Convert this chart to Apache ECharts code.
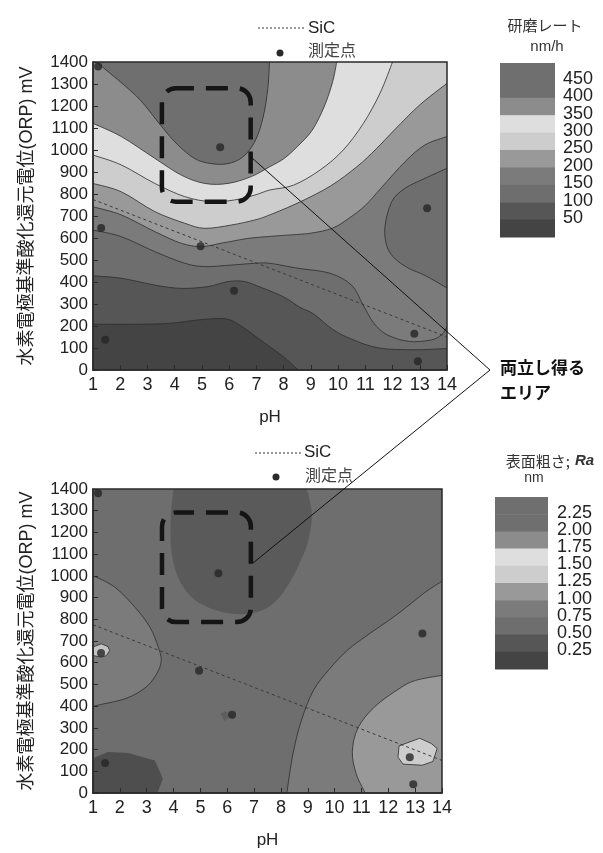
<!DOCTYPE html>
<html><head><meta charset="utf-8">
<script src="https://cdn.jsdelivr.net/npm/echarts@6/dist/echarts.min.js"></script>
<style>html,body{margin:0;padding:0;background:#fff}#c{width:603px;height:853px}</style>
</head><body><div id="c"></div>
<script>
// ---------- axis ranges ----------
const phRange = [1, 14];
const orpRange = [0, 1400];
const phInterval = 1;
const orpInterval = 100;

// ---------- measured points & SiC line (same in both plots) ----------
const measPH  = [1.19, 1.30, 1.45, 4.95, 5.67, 6.18, 13.27, 12.80, 12.93];
const measORP = [1380, 645, 138, 563, 1012, 360, 735, 165, 40];
const sicPH  = [1, 14];
const sicORP = [775, 150];

// ---------- colour levels (low -> high) ----------
const levelColors = ['#444444','#565656','#6e6e6e','#7b7b7b','#999999','#cdcdcd','#dedede','#8c8c8c','#6f6f6f','#6f6f6f'];
const rateLegendLabels = ['450','400','350','300','250','200','150','100','50'];
const raLegendLabels = ['2.25','2.00','1.75','1.50','1.25','1.00','0.75','0.50','0.25'];

// ---------- top plot: polishing-rate contour lines [pH, ORP] ----------
const rate50  = [[1,208],[2.5,208],[3.8,212],[4.9,228],[5.9,232],[6.5,195],[7.0,150],[7.5,105],[8.0,60],[8.4,15],[8.55,0]];
const rate100 = [[1,428],[2.04,417],[3.27,386],[4.24,371],[5.22,379],[5.96,402],[6.57,402],[7.18,375],[7.99,333],[8.6,285],[9.1,255],[9.8,185],[10.5,140],[11.5,100],[12.8,92],[14,98]];
const rate150 = [[1,636],[2.04,606],[3.27,538],[4.37,485],[5.1,470],[6.08,477],[6.94,485],[7.49,485],[8.54,462],[9.7,440],[10.5,385],[10.9,300],[11.3,215],[11.8,160],[12.6,130],[13.4,136],[13.8,160],[14,197]];
const rate150hole = [[14,917],[13.19,871],[12.46,826],[11.97,765],[11.72,650],[11.8,560],[12.1,505],[12.6,462],[13.19,430],[14,373]];
const rate200 = [[1,742],[2.04,705],[3.27,629],[4.24,576],[4.98,561],[5.7,576],[6.69,598],[7.49,607],[8.0,612],[9.0,622],[9.8,645],[10.4,690],[11.0,748],[11.6,830],[12.46,947],[13.19,1023],[14,1061]];
const rate250 = [[1,848],[2.04,810],[3.27,720],[4.37,667],[5.1,644],[6.08,659],[6.94,682],[7.49,705],[8.57,762],[9.73,837],[10.7,925],[11.4,1005],[12.1,1095],[13.0,1205],[14,1303]];
const rate300 = [[1,977],[2.04,932],[3.27,848],[4.37,788],[5.34,765],[6.2,773],[6.94,795],[7.49,818],[8.36,840],[9.34,909],[10.19,1000],[10.93,1121],[11.54,1258],[12.0,1400]];
const rate350 = [[1,1121],[2.04,1061],[3.27,962],[4.24,886],[5.1,848],[5.96,848],[6.81,879],[7.49,924],[8.0,960],[8.5,1015],[9.05,1090],[9.5,1200],[9.8,1310],[9.95,1400]];
const rate400 = [[1.12,1400],[2.0,1310],[2.75,1225],[3.5,1110],[4.1,1025],[4.75,960],[5.35,938],[5.95,938],[6.5,968],[6.95,1040],[7.25,1150],[7.42,1280],[7.48,1400]];

// ---------- bottom plot: surface roughness Ra contour lines [pH, ORP] ----------
const raLeft075   = [[1,1001],[1.81,948],[2.56,856],[3.12,764],[3.43,672],[3.54,615],[3.42,560],[3.0,490],[2.26,437],[1.31,408],[1,400]];
const raRight075  = [[8.22,0],[8.44,175],[8.75,330],[9.2,470],[9.8,570],[10.5,660],[11.2,725],[12.3,820],[13.38,925],[14,975]];
const raCorner100 = [[14,542],[13.0,518],[12.4,480],[11.5,398],[10.87,300],[10.66,190],[10.8,90],[11.1,10],[11.15,0]];
const raIsland125 = [[12.4,217],[13.17,252],[13.6,228],[13.82,205],[13.66,145],[13.26,128],[12.55,133],[12.36,165]];
const raTop050    = [[3.99,1400],[3.9,1270],[3.92,1116],[4.17,994],[4.67,902],[5.28,856],[6.03,828],[6.77,825],[7.45,850],[8.0,910],[8.4,985],[8.7,1060],[8.97,1140],[9.12,1226],[9.15,1290],[9.05,1360],[8.95,1400]];
const raLow050    = [[1,160],[1.56,189],[2.31,184],[3.3,150],[3.5,95],[3.6,66],[3.4,0]];
const raBlob      = [[1,672],[1.31,687],[1.56,674],[1.62,656],[1.5,633],[1.31,626],[1,633]];
const raDiamond   = [[5.76,365],[5.91,377],[6.1,365],[6.04,343],[5.89,332]];

// ---------- highlighted "compatible" areas ----------
const topAreaPH = [3.53, 6.79], topAreaORP = [765, 1281];
const botAreaPH = [3.57, 6.88], botAreaORP = [787, 1292];

const NUM_FONT = '"Liberation Sans",Arial,sans-serif';
const TXT_FONT = '"Liberation Sans","Noto Sans CJK JP",sans-serif';
const JP_FONT = '"Noto Sans CJK JP","Liberation Sans",sans-serif';

const corners = {
  bl: [phRange[0], orpRange[0]], br: [phRange[1], orpRange[0]],
  tr: [phRange[1], orpRange[1]], tl: [phRange[0], orpRange[1]]
};
const c = levelColors;

const topLayers = [
  { line: [], close: [corners.bl, corners.br, corners.tr, corners.tl], color: c[0] },
  { line: rate50, close: [corners.br, corners.tr, corners.tl], color: c[1], smooth: true, stroke: true },
  { line: rate100, close: [corners.tr, corners.tl], color: c[2], smooth: true, stroke: true },
  { line: rate150, close: [corners.tr, corners.tl], color: c[3], smooth: true, stroke: true },
  { line: rate150hole, close: [], color: c[2], smooth: true, stroke: true },
  { line: rate200, close: [corners.tr, corners.tl], color: c[4], smooth: true, stroke: true },
  { line: rate250, close: [corners.tr, corners.tl], color: c[5], smooth: true, stroke: true },
  { line: rate300, close: [corners.tl], color: c[6], smooth: true, stroke: true },
  { line: rate350, close: [corners.tl], color: c[7], smooth: true, stroke: true },
  { line: rate400, close: [], color: c[8], smooth: true, stroke: true }
];
const botLayers = [
  { line: [], close: [corners.bl, corners.br, corners.tr, corners.tl], color: c[2] },
  { line: raLeft075, close: [], color: c[3], smooth: true, stroke: true },
  { line: raRight075, close: [corners.br], color: c[3], smooth: true, stroke: true },
  { line: raCorner100, close: [corners.br], color: c[4], smooth: true, stroke: true },
  { line: raIsland125, close: [], color: c[5], stroke: true, closed: true },
  { line: raTop050, close: [], color: '#5a5a5a', smooth: true },
  { line: raLow050, close: [corners.bl], color: '#4e4e4e' },
  { line: raBlob, close: [], color: '#c4c4c4', stroke: true, closed: true },
  { line: raDiamond, close: [], color: '#5e5e5e', closed: true }
];

function f(n){ return n.toFixed(2); }
function linePath(pts){
  return pts.map((p,i)=>(i?' L':'M')+f(p[0])+' '+f(p[1])).join('');
}
function smoothPath(pts){
  if (pts.length < 3) return linePath(pts);
  let d = 'M' + f(pts[0][0]) + ' ' + f(pts[0][1]);
  for (let i = 0; i < pts.length - 1; i++) {
    const p0 = pts[i-1] || pts[i], p1 = pts[i], p2 = pts[i+1], p3 = pts[i+2] || pts[i+1];
    const t = 1/6;
    d += ' C' + f(p1[0]+(p2[0]-p0[0])*t) + ' ' + f(p1[1]+(p2[1]-p0[1])*t) + ' ' +
         f(p2[0]-(p3[0]-p1[0])*t) + ' ' + f(p2[1]-(p3[1]-p1[1])*t) + ' ' + f(p2[0]) + ' ' + f(p2[1]);
  }
  return d;
}

function contourSeries(layers, gi){
  return {
    type: 'custom', coordinateSystem: 'cartesian2d', xAxisIndex: gi, yAxisIndex: gi,
    clip: true, silent: true, z: 1,
    data: layers.map((l, i) => [i]),
    renderItem: function(params, api){
      const L = layers[params.dataIndex];
      const curve = L.line.map(p => api.coord(p));
      const closing = L.close.map(p => api.coord(p));
      let curveD = curve.length ? (L.smooth ? smoothPath(curve) : linePath(curve)) : '';
      let fillD;
      if (curve.length) {
        fillD = curveD + closing.map(p => ' L' + f(p[0]) + ' ' + f(p[1])).join('') + ' Z';
      } else {
        fillD = linePath(closing) + ' Z';
      }
      const children = [{ type: 'path', shape: { pathData: fillD }, style: { fill: L.color, stroke: null } }];
      if (L.stroke) {
        children.push({ type: 'path', shape: { pathData: curveD + (L.closed ? ' Z' : '') },
          style: { fill: null, stroke: '#2c2c2c', lineWidth: 0.8 } });
      }
      return { type: 'group', children: children };
    }
  };
}

function frameSeries(gi){
  return {
    type: 'custom', coordinateSystem: 'cartesian2d', xAxisIndex: gi, yAxisIndex: gi,
    silent: true, z: 8, clip: false, data: [[0]],
    renderItem: function(params, api){
      const a = api.coord(corners.tl), b = api.coord(corners.br);
      return { type: 'rect', shape: { x: a[0], y: a[1], width: b[0]-a[0], height: b[1]-a[1] },
        style: { fill: null, stroke: '#2a2a2a', lineWidth: 1.5 } };
    }
  };
}

function areaSeries(phs, orps, gi){
  return {
    type: 'custom', coordinateSystem: 'cartesian2d', xAxisIndex: gi, yAxisIndex: gi,
    silent: true, z: 9, clip: false, data: [[0]],
    renderItem: function(params, api){
      const a = api.coord([phs[0], orps[1]]), b = api.coord([phs[1], orps[0]]);
      return { type: 'rect', shape: { x: a[0], y: a[1], width: b[0]-a[0], height: b[1]-a[1], r: 14 },
        style: { fill: null, stroke: '#151515', lineWidth: 4.5, lineDash: [22, 12], lineDashOffset: 4 } };
    }
  };
}

function xAx(gi){
  return { type: 'value', gridIndex: gi, min: phRange[0], max: phRange[1], interval: phInterval, z: 10,
    axisLine: { show: true, onZero: false, lineStyle: { color: '#2a2a2a', width: 1.5 } },
    axisTick: { show: true, inside: true, length: 5, lineStyle: { color: '#2a2a2a' } },
    axisLabel: { fontFamily: NUM_FONT, fontSize: 18, color: '#222', margin: 6, formatter: v => String(v) },
    splitLine: { show: false },
    name: 'pH', nameLocation: 'middle', nameGap: 39,
    nameTextStyle: { fontFamily: TXT_FONT, fontSize: 17, color: '#222' } };
}
function yAx(gi){
  return { type: 'value', gridIndex: gi, min: orpRange[0], max: orpRange[1], interval: orpInterval, z: 10,
    axisLine: { show: true, onZero: false, lineStyle: { color: '#2a2a2a', width: 1.5 } },
    axisTick: { show: true, inside: true, length: 5, lineStyle: { color: '#2a2a2a' } },
    axisLabel: { fontFamily: NUM_FONT, fontSize: 17, color: '#222', margin: 5, hideOverlap: false, formatter: v => String(v) },
    splitLine: { show: false },
    name: '水素電極基準酸化還元電位(ORP) mV', nameLocation: 'middle', nameRotate: 90, nameGap: 57,
    nameTextStyle: { fontFamily: TXT_FONT, fontSize: 18, color: '#222' } };
}

const meas = measPH.map((p, i) => [p, measORP[i]]);
const sic = sicPH.map((p, i) => [p, sicORP[i]]);

function pointsSeries(gi){
  return { type: 'scatter', xAxisIndex: gi, yAxisIndex: gi, data: meas, symbolSize: 8, z: 6,
    itemStyle: { color: '#262626' }, silent: true };
}
function sicSeries(gi){
  return { type: 'line', xAxisIndex: gi, yAxisIndex: gi, data: sic, symbol: 'none', z: 5, silent: true,
    lineStyle: { color: '#3a3a3a', width: 1, type: [3, 3] } };
}

// ---------- legend graphics ----------
const graphics = [];
function colorBar(x, y, w, h, labels, labelX, fontSize){
  const bandsTopDown = levelColors.slice().reverse();
  bandsTopDown.forEach((col, i) => {
    graphics.push({ type: 'rect', shape: { x: x, y: y + i*h, width: w, height: h + 0.5 }, style: { fill: col } });
  });
  labels.forEach((lab, i) => {
    graphics.push({ type: 'text', x: labelX, y: y + (i+1)*h - 1.5,
      style: { text: lab, font: fontSize + 'px ' + NUM_FONT, fill: '#222', verticalAlign: 'middle', align: 'left' } });
  });
}
colorBar(500, 63, 55, 17.4, rateLegendLabels, 563, 18);
colorBar(495, 497, 53, 17.2, raLegendLabels, 557, 18);

graphics.push(
  { type: 'text', x: 545, y: 25, style: { text: '研磨レート', font: '15px ' + JP_FONT, fill: '#333', align: 'center', verticalAlign: 'middle' } },
  { type: 'text', x: 547, y: 47, style: { text: 'nm/h', font: '15px ' + TXT_FONT, fill: '#333', align: 'center', verticalAlign: 'middle' } },
  { type: 'text', x: 550, y: 461, style: { text: '{a|表面粗さ;}{s| }{b|Ra}', align: 'center', verticalAlign: 'middle',
      rich: { a: { font: '15px ' + JP_FONT, fill: '#333' }, s: { font: '15px ' + TXT_FONT, width: 5 }, b: { font: 'italic bold 15px ' + TXT_FONT, fill: '#333' } } } },
  { type: 'text', x: 534, y: 478, style: { text: 'nm', font: '14px ' + TXT_FONT, fill: '#333', align: 'center', verticalAlign: 'middle' } },
  // series legends
  { type: 'line', shape: { x1: 258, y1: 28, x2: 305, y2: 28 }, style: { stroke: '#333', lineWidth: 1, lineDash: [2, 2] } },
  { type: 'text', x: 308, y: 28, style: { text: 'SiC', font: '17px ' + TXT_FONT, fill: '#222', verticalAlign: 'middle' } },
  { type: 'circle', shape: { cx: 280, cy: 53, r: 3.5 }, style: { fill: '#2a2a2a' } },
  { type: 'text', x: 308, y: 50, style: { text: '測定点', font: '16px ' + JP_FONT, fill: '#444', verticalAlign: 'middle' } },
  { type: 'line', shape: { x1: 255, y1: 453, x2: 302, y2: 453 }, style: { stroke: '#333', lineWidth: 1, lineDash: [2, 2] } },
  { type: 'text', x: 304, y: 452, style: { text: 'SiC', font: '17px ' + TXT_FONT, fill: '#222', verticalAlign: 'middle' } },
  { type: 'circle', shape: { cx: 276, cy: 477, r: 3.5 }, style: { fill: '#2a2a2a' } },
  { type: 'text', x: 305, y: 475, style: { text: '測定点', font: '16px ' + JP_FONT, fill: '#444', verticalAlign: 'middle' } },
  // annotation
  { type: 'polyline', z: 20, shape: { points: [[251, 157], [490, 370], [253, 563]] }, style: { stroke: '#111', lineWidth: 1, fill: null } },
  { type: 'text', x: 500, y: 368, style: { text: '両立し得る', font: 'bold 17px ' + JP_FONT, fill: '#111', verticalAlign: 'middle' } },
  { type: 'text', x: 500, y: 393, style: { text: 'エリア', font: 'bold 17px ' + JP_FONT, fill: '#111', verticalAlign: 'middle' } }
);

const chart = echarts.init(document.getElementById('c'), null, { renderer: 'canvas' });
chart.setOption({
  animation: false,
  backgroundColor: '#ffffff',
  grid: [
    { left: 93, top: 62, width: 354, height: 308 },
    { left: 93, top: 489, width: 349, height: 304 }
  ],
  xAxis: [xAx(0), xAx(1)],
  yAxis: [yAx(0), yAx(1)],
  series: [
    contourSeries(topLayers, 0), contourSeries(botLayers, 1),
    sicSeries(0), sicSeries(1), pointsSeries(0), pointsSeries(1),
    frameSeries(0), frameSeries(1),
    areaSeries(topAreaPH, topAreaORP, 0), areaSeries(botAreaPH, botAreaORP, 1)
  ],
  graphic: graphics
});
</script></body></html>
